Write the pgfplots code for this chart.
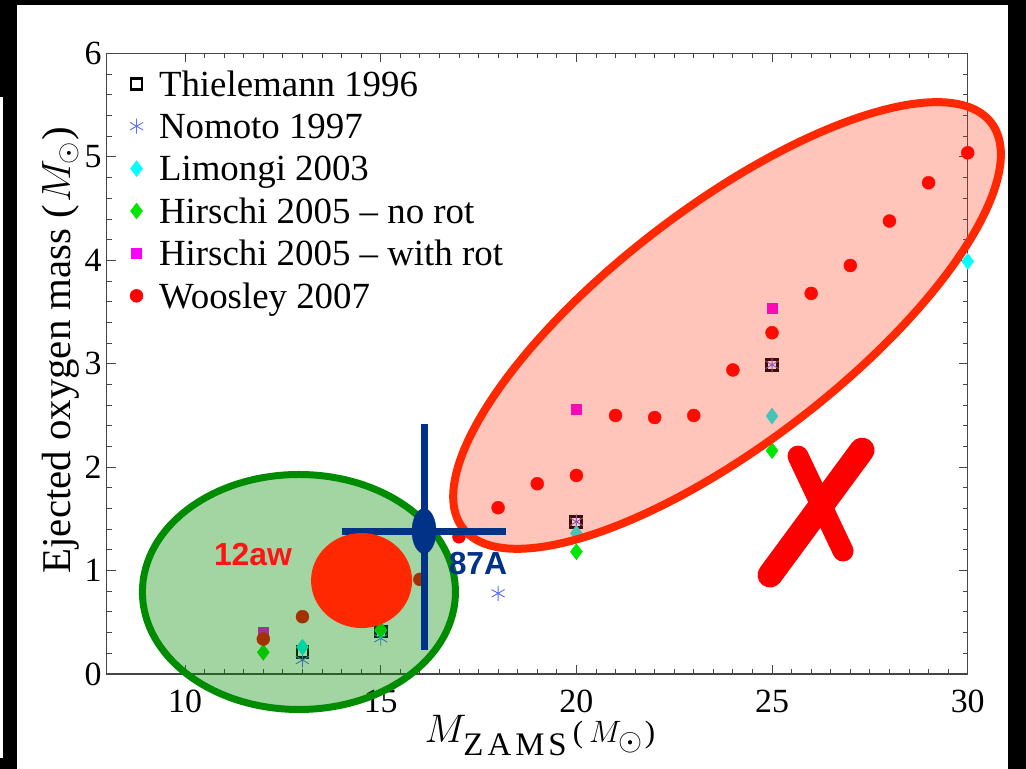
\RequirePackage{fix-cm}
\documentclass[border=0pt]{standalone}
\usepackage{fontspec}
\setmainfont{Liberation Serif}
\newfontfamily\lsans{Liberation Sans}
\usepackage{pgfplots}
\pgfplotsset{compat=1.18}

\definecolor{axisgray}{RGB}{70,70,70}
\definecolor{nomoto}{RGB}{90,110,255}
\definecolor{limongi}{RGB}{0,255,255}
\definecolor{hnorot}{RGB}{0,230,0}
\definecolor{hrot}{RGB}{250,0,250}
\definecolor{woos}{RGB}{255,0,0}
\definecolor{ellgreen}{RGB}{0,140,0}
\definecolor{ellred}{RGB}{255,40,0}
\definecolor{blue87}{RGB}{0,50,135}
\definecolor{red12}{RGB}{255,20,20}

\pgfdeclareplotmark{vellipse}{%
  \pgfpathellipse{\pgfpointorigin}{\pgfpoint{12bp}{0bp}}{\pgfpoint{0bp}{22.5bp}}%
  \pgfusepathqfillstroke}

\pgfplotsset{
  frame/.style={
    at={(106.8bp,95bp)}, anchor=south west,
    scale only axis, width=860.9bp, height=620.5bp,
    xmin=8, xmax=30, ymin=0, ymax=6,
    clip=false,
  }
}

\begin{document}
\begin{tikzpicture}
\useasboundingbox (0,0) rectangle (1026bp,769bp);
\fill[black] (0,0) rectangle (1026bp,769bp);
\fill[white] (17bp,0) rectangle (1008bp,764bp);
\fill[white] (0,11bp) rectangle (3bp,672bp);

% ---- data axis
\begin{axis}[
  frame,
  xtick={10,15,20,25,30}, ytick={0,1,2,3,4,5,6},
  minor x tick num=9, minor y tick num=4,
  tick align=inside,
  major tick length=9bp, minor tick length=5bp,
  axis line style={draw=axisgray, line width=1.2bp},
  tick style={axisgray, line width=0.9bp},
  /pgf/number format/assume math mode=true,
  tick label style={font=\fontsize{34}{34}\selectfont, inner sep=0pt},
  xticklabel style={yshift=-16bp},
  yticklabel style={xshift=-5bp},
  xlabel={\fontsize{40}{40}\selectfont$M$\kern-3bp\raisebox{-13bp}{\fontsize{33}{33}\selectfont Z\kern4bp A\kern4bp M\kern4bp S}\kern6bp{\fontsize{31}{31}\selectfont(\kern6bp$M_{\textstyle\odot}$\kern2bp)}},
  ylabel={\fontsize{41}{41}\selectfont Ejected oxygen mass (\kern2bp$M_\odot$\kern1bp)},
  xlabel style={at={(axis description cs:0.503,-0.111)}, anchor=base, inner sep=0pt},
  ylabel style={at={(axis description cs:-0.0427,0.522)}, anchor=base, inner sep=0pt},
  legend style={at={(axis description cs:0.027,0.9853)}, anchor=north west,
    draw=none, fill=none, inner sep=0pt, outer sep=0pt, row sep=0pt, column sep=16bp,
    font=\fontsize{37}{37}\selectfont,
    nodes={inner sep=0pt, text height=33.4bp, text depth=9bp}},
  legend cell align=left,
  legend image code/.code={\draw[#1] plot coordinates {(0bp,0bp)};},
]
% Thielemann 1996
\addplot[only marks, mark=square, draw=black, mark size=5.5bp, mark options={line width=2.8bp, fill=none}]
  coordinates {(13,0.215) (15,0.41) (20,1.472) (25,2.99)};
\addlegendentry{Thielemann 1996}
% Nomoto 1997
\addplot[only marks, mark=asterisk, color=nomoto, mark size=7.5bp, mark options={line width=0.9bp}]
  coordinates {(13,0.135) (15,0.345) (18,0.78) (20,1.472) (25,2.99)};
\addlegendentry{Nomoto 1997}
% Limongi 2003
\addplot[only marks, mark=diamond*, color=limongi, mark size=8bp]
  coordinates {(13,0.26) (15,0.42) (20,1.36) (25,2.494) (30,3.99)};
\addlegendentry{Limongi 2003}
% Hirschi 2005 no rot
\addplot[only marks, mark=diamond*, color=hnorot, mark size=8bp]
  coordinates {(12,0.21) (15,0.43) (20,1.182) (25,2.16)};
\addlegendentry{Hirschi 2005 -- no rot}
% Hirschi 2005 with rot
\addplot[only marks, mark=square*, color=hrot, mark size=5bp]
  coordinates {(12,0.40) (15,0.65) (20,2.56) (25,3.54)};
\addlegendentry{Hirschi 2005 -- with rot}
% Woosley 2007
\addplot[only marks, mark=*, color=woos, mark size=6.5bp]
  coordinates {(12,0.338) (13,0.554) (14,0.70) (15,0.80) (16,0.915) (17,1.327)
    (18,1.608) (19,1.84) (20,1.92) (21,2.50) (22,2.48) (23,2.50) (24,2.94)
    (25,3.30) (26,3.68) (27,3.95) (28,4.38) (29,4.75) (30,5.04)};
\addlegendentry{Woosley 2007}
\end{axis}

% ---- translucent regions
\begin{axis}[frame, hide axis]
\draw[ellgreen, line width=7bp, fill=ellgreen, fill opacity=0.36]
  (axis cs:12.91,0.793) ellipse [x radius=156.5bp, y radius=117.5bp];
\draw[ellred, line width=8bp, fill=ellred, fill opacity=0.27, rotate around={37.5:(axis cs:23.85,3.37)}]
  (axis cs:23.85,3.37) ellipse [x radius=333bp, y radius=118bp];
\end{axis}

% ---- SN 1987A, SN 2012aw, cross
\begin{axis}[frame, hide axis]
\addplot[only marks, mark=vellipse, color=blue87,
  error bars/.cd, x dir=both, x explicit, y dir=both, y explicit,
  error bar style={line width=7bp, color=blue87}, error mark=none]
  coordinates {(16.106,1.382) += (2.096,1.034) -= (2.096,1.150)};
\fill[ellred] (axis cs:14.51,0.904) ellipse [x radius=50.5bp, y radius=47.5bp];
\draw[woos, line width=21bp, line cap=round] (axis cs:25.664,2.107) -- (axis cs:26.814,1.189);
\draw[woos, line width=25bp, line cap=round] (axis cs:27.300,2.165) -- (axis cs:24.949,0.957);
\node[font=\lsans\bfseries\fontsize{32}{32}\selectfont, text=red12, inner sep=0pt] at (axis cs:11.736,1.160) {12aw};
\node[font=\lsans\bfseries\fontsize{32}{32}\selectfont, text=blue87, inner sep=0pt] at (axis cs:17.486,1.073) {87A};
\end{axis}
\end{tikzpicture}
\end{document}
